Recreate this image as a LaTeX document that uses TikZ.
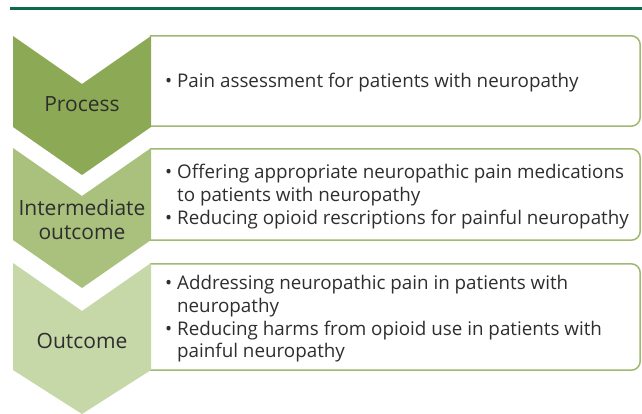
\documentclass[tikz,border=0pt]{standalone}
\usepackage{fontspec}
\setmainfont{Open Sans}
\definecolor{topgreen}{HTML}{0D6B4C}
\definecolor{darkolive}{HTML}{8CAA55}
\definecolor{midolive}{HTML}{A9C17D}
\definecolor{paleolive}{HTML}{C6D7A8}
\definecolor{boxline}{HTML}{9FBA70}
\definecolor{txtgray}{HTML}{2E2E2E}
\tikzset{
  stepframe/.style={minimum width=490pt, inner sep=0pt},
  frameline/.style={draw=boxline, line width=1.5pt},
  steplabel/.style={align=center, text=txtgray, font=\fontsize{21}{24}\selectfont, inner sep=0pt},
  steptext/.style={align=left, anchor=west, text=txtgray, font=\fontsize{18.8}{22.6}\selectfont, inner sep=0pt}
}
\newcommand{\hang}{\hphantom{\textbullet}\ }
\newcommand{\framepath}[1]{%
  \draw [frameline] (#1.north west) -- ([xshift=-9pt]#1.north east)
    arc [start angle=90, end angle=0, radius=9pt] -- ([yshift=9pt]#1.south east)
    arc [start angle=0, end angle=-90, radius=9pt] -- (#1.south west);}
\begin{document}
\begin{tikzpicture}[x=1pt,y=-1pt]
   \useasboundingbox (0,0) rectangle (642,414);

   \draw [topgreen, line width=2.2pt] (10,8.5) -- (642,8.5);

   \node (Frame1) at (395,81) [stepframe, minimum height=90pt] {};
   \node (Frame2) at (395,194.5) [stepframe, minimum height=91pt] {};
   \node (Frame3) at (395,317) [stepframe, minimum height=106pt] {};
   \framepath{Frame1}
   \framepath{Frame2}
   \framepath{Frame3}

   \fill [darkolive] (13,36) -- (82,84) -- (151,36) -- (151,127) -- (82,175) -- (13,127) -- cycle;
   \fill [midolive] (13,148) -- (82,196) -- (151,148) -- (151,240) -- (82,288) -- (13,240) -- cycle;
   \fill [paleolive] (13,263) -- (82,311) -- (151,263) -- (151,370) -- (82,414) -- (13,370) -- cycle;

   \node (Process) at (82,104) [steplabel] {Process};
   \node (Intermediate) at (82,219.5) [steplabel] {Intermediate\\outcome};
   \node (Outcome) at (82,341) [steplabel] {Outcome};

   \node (ProcessText) at (165,83) [steptext] {\textbullet\ Pain assessment for patients with neuropathy};
   \node (IntermediateText) at (165,196.5) [steptext] {\textbullet\ Offering appropriate neuropathic pain medications\\\hang to patients with neuropathy\\\textbullet\ Reducing opioid rescriptions for painful neuropathy};
   \node (OutcomeText) at (165,319) [steptext] {\textbullet\ Addressing neuropathic pain in patients with\\\hang neuropathy\\\textbullet\ Reducing harms from opioid use in patients with\\\hang painful neuropathy};

\end{tikzpicture}
\end{document}
